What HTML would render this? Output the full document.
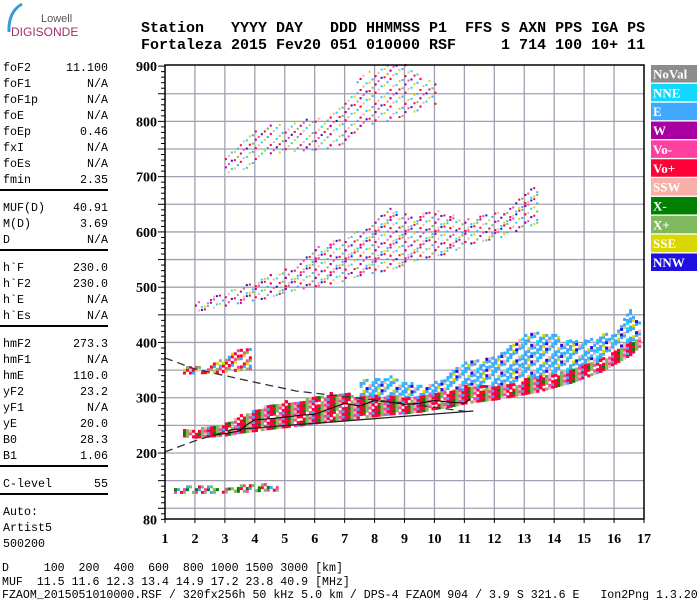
<!DOCTYPE html>
<html><head><meta charset="utf-8"><style>
html,body{margin:0;padding:0;background:#fff;width:700px;height:600px;overflow:hidden;position:relative}
.m{position:absolute;font-family:"Liberation Mono",monospace;white-space:pre;color:#000}
.hd{font-size:15px;font-weight:bold;line-height:17px}
.lp{font-size:11.67px;line-height:16px}
.sep{position:absolute;left:0;width:108px;height:0;border-top:2px solid #000}
svg{position:absolute;left:0;top:0}
</style></head><body>
<svg width="90" height="40" style="left:0;top:0">
<path d="M22 4 Q8 12 9 32" stroke="#3a9ad8" stroke-width="3" fill="none"/>
<text x="41" y="22" font-family="Liberation Sans,sans-serif" font-size="11" fill="#555">Lowell</text>
<text x="11" y="36" font-family="Liberation Sans,sans-serif" font-size="12" fill="#a0306a">DIGISONDE</text>
</svg>
<div class="m hd" style="left:141px;top:20px">Station   YYYY DAY   DDD HHMMSS P1  FFS S AXN PPS IGA PS</div>
<div class="m hd" style="left:141px;top:37px">Fortaleza 2015 Fev20 051 010000 RSF     1 714 100 10+ 11</div>
<div id="lp"></div>
<div class="m lp" style="left:2px;top:561px;font-size:11.6px">D     100  200  400  600  800 1000 1500 3000 [km]</div>
<div class="m lp" style="left:2px;top:575px;font-size:11.6px">MUF  11.5 11.6 12.3 13.4 14.9 17.2 23.8 40.9 [MHz]</div>
<div class="m lp" style="left:2px;top:590px;font-size:11.6px;line-height:12px">FZAOM_2015051010000.RSF / 320fx256h 50 kHz 5.0 km / DPS-4 FZAOM 904 / 3.9 S 321.6 E   Ion2Png 1.3.20</div>
<svg id="ch" width="700" height="600"></svg>
<script>
// ---- data ----
const xTicks=[1,2,3,4,5,6,7,8,9,10,11,12,13,14,15,16,17];
const yTickLabels=[80,200,300,400,500,600,700,800,900];
const legendNames=["NoVal","NNE","E","W","Vo-","Vo+","SSW","X-","X+","SSE","NNW"];
const legendColors=["#8c8c8c","#10d8ff","#40a8ff","#a800a0","#ff40a0","#ff0038","#f8b0a8","#008000","#80b860","#d8d800","#2010e0"];
// main O/X trace
const oFreq=[1.6,2.0,2.5,3.0,3.5,4.0,4.5,5.0,5.5,6.0,6.5,7.0,7.5,8.0,8.5,9.0,9.5,10.0,10.5,11.0,11.5,12.0,12.5,13.0,13.5,14.0,14.5,15.0,15.5,16.0,16.5,16.9];
const oLow=[228,226,228,230,235,238,242,245,248,252,255,258,262,265,268,270,273,278,282,288,292,295,300,305,310,318,325,335,345,360,375,395];
const oHigh=[240,240,245,250,265,275,285,290,292,300,305,305,300,300,300,298,300,305,310,318,318,318,322,330,335,340,348,355,368,380,395,410];
// blue (E/NNW) spread above
const bFreq=[7.5,8.0,8.5,9.0,9.5,10.0,10.5,11.0,11.5,12.0,12.5,13.0,13.5,14.0,14.5,15.0,15.5,16.0,16.5,16.9];
const bLow=[298,300,300,298,298,300,305,305,310,315,320,330,335,335,340,350,370,375,390,400];
const bHigh=[330,330,335,325,320,325,345,360,365,370,390,410,415,410,400,400,415,410,460,430];
// Es trace
const esFreq=[1.6,2.0,2.5,3.0,3.5,3.9];
const esLow=[342,342,343,345,348,350];
const esHigh=[352,352,356,372,385,385];
// E layer
const eFreq=[1.3,1.8,2.3,2.8,3.3,3.8,4.3,4.7];
const eLow=[126,126,126,126,128,128,130,130];
const eHigh=[134,137,137,135,137,140,140,138];
// second hop
const f2Freq=[2.0,2.5,3.0,3.5,4.0,4.5,5.0,6.0,6.5,7.0,7.5,8.0,8.5,9.0,9.5,10.0,10.5,11.0,12.3,12.7,13.0,13.4];
const f2Low=[455,460,465,470,475,480,490,500,505,510,520,525,530,540,550,555,560,575,590,600,605,615];
const f2High=[470,480,490,500,510,520,530,570,580,590,600,620,640,630,630,640,630,620,640,660,670,680];
// third hop
const f3Freq=[3.0,3.5,4.0,4.4,6.5,7.0,7.5,8.0,8.5,9.0,9.5,10.0];
const f3Low=[705,710,720,740,750,760,790,795,800,810,820,830];
const f3High=[730,760,780,790,810,830,880,895,900,900,880,870];
// profile line and leading edges
const profF=[2.6,3.0,3.5,3.7,4.0,4.5,5.0,5.5,6.0,6.5,7.0,7.5,8.0,8.5,9.0,9.5,10.0,10.5,11.0,11.2];
const profH=[232,235,240,250,260,262,265,268,270,280,290,285,295,292,288,290,295,292,290,298];
const dashUpF=[1.0,2.0,3.0,4.0,5.4,7.0,9.0,11.2];
const dashUpH=[372,352,340,328,312,302,290,274];
const dashLoF=[1.0,2.0,3.2];
const dashLoH=[202,222,242];
const solidF=[3.2,11.3];
const solidH=[242,276];
const leftLabels=[["foF2","11.100"],["foF1","N/A"],["foF1p","N/A"],["foE","N/A"],["foEp","0.46"],["fxI","N/A"],["foEs","N/A"],["fmin","2.35"],null,["MUF(D)","40.91"],["M(D)","3.69"],["D","N/A"],null,["h`F","230.0"],["h`F2","230.0"],["h`E","N/A"],["h`Es","N/A"],null,["hmF2","273.3"],["hmF1","N/A"],["hmE","110.0"],["yF2","23.2"],["yF1","N/A"],["yE","20.0"],["B0","28.3"],["B1","1.06"],null,["C-level","55"],null,["Auto:",""],["Artist5",""],["500200",""]];

// ---- axes ----
const X=f=>165+(f-1)*(479/16);
const Y=h=>453-(h-200)*0.5527;
const svg=document.getElementById('ch');
const NS='http://www.w3.org/2000/svg';
function mk(t,a,p){const e=document.createElementNS(NS,t);for(const k in a)e.setAttribute(k,a[k]);(p||svg).appendChild(e);return e;}

// left panel
const lp=document.getElementById('lp');
let yy=60;
leftLabels.forEach(r=>{
  if(r===null){const s=document.createElement('div');s.className='sep';s.style.top=(yy+1)+'px';
    
    
    lp.appendChild(s);yy+=12;return;}
  const a=document.createElement('div');a.className='m lp';a.style.left='3px';a.style.top=yy+'px';a.textContent=r[0];
  
  
  lp.appendChild(a);
  if(r[1]){const b=document.createElement('div');b.className='m lp';b.style.right=(700-108)+'px';b.style.top=yy+'px';b.textContent=r[1];
    
    
    lp.appendChild(b);}
  yy+=16;
});

// grid
const grid=mk('g',{});


for(let h=100;h<900;h+=50){mk('line',{x1:165,x2:644,y1:Y(h),y2:Y(h),stroke:'#a0a0b0','stroke-width':1.3},grid);}
for(let f=2;f<=16;f++){mk('line',{x1:X(f),x2:X(f),y1:65,y2:519,stroke:'#a0a0b0','stroke-width':1.3},grid);}

// echo cells
const C=legendColors;
function band(fr,lo,hi,pal,dens,cw,ch,name){
  const g=mk('g',{});
  
  
  for(let k=0;k<fr.length-1;k++){
    const f0=fr[k],f1=fr[k+1];
    for(let f=f0;f<f1;f+=0.1){
      const t=(f-f0)/(f1-f0);
      const l=lo[k]+(lo[k+1]-lo[k])*t,h=hi[k]+(hi[k+1]-hi[k])*t;
      const i=Math.round(f*10);
      for(let v=l;v<=h;v+=5){
        const j=Math.round(v/5);
        if(((i*13+j*7)%10)>=dens*10)continue;
        const c=pal[(i*3+j*5)%pal.length];
        mk('rect',{x:X(f),y:Y(v)-ch,width:cw,height:ch,fill:c},g);
      }
    }
  }
}
const palO=[C[5],C[8],C[5],C[7],C[4],C[5],C[8],C[2],C[5],C[6]];
const palB=[C[2],C[2],C[1],C[2],C[6],C[2],C[10],C[2],C[9],C[2]];
const palEs=[C[5],C[2],C[4],C[9],C[5],C[8]];
const palE=[C[8],C[7],C[5],C[4],C[2],C[8],C[7]];
const palH=[C[5],C[10],C[2],C[4],C[9],C[3],C[1],C[8],C[6],C[5]];
band(bFreq,bLow,bHigh,palB,0.6,3,3,'echo-blue-spread');
band(oFreq,oLow,oHigh,palO,0.85,3.2,3,'echo-f-trace');
band(esFreq,esLow,esHigh,palEs,0.6,3,3,'echo-es-trace');
band(eFreq,eLow,eHigh,palE,0.6,3,3,'echo-e-layer');
band(f2Freq,f2Low,f2High,palH,0.35,2,2,'echo-second-hop');
band(f3Freq,f3Low,f3High,palH,0.3,2,2,'echo-third-hop');

// curves
const pts=(F,H)=>F.map((f,i)=>X(f)+','+Y(H[i])).join(' ');
const p1=mk('polyline',{points:pts(profF,profH),fill:'none',stroke:'#000','stroke-width':1});


const d1=mk('polyline',{points:pts(dashUpF,dashUpH),fill:'none',stroke:'#333','stroke-width':1.3,'stroke-dasharray':'8,5'});


const d2=mk('polyline',{points:pts(dashLoF,dashLoH),fill:'none',stroke:'#333','stroke-width':1.3,'stroke-dasharray':'8,5'});


const s1=mk('polyline',{points:pts(solidF,solidH),fill:'none',stroke:'#222','stroke-width':1.3});



// frame
const fr=mk('rect',{x:165,y:65,width:479,height:454,fill:'none',stroke:'#000','stroke-width':1.5});


for(let h=80;h<=900;h+=10){const mj=h%50===0;mk('line',{x1:mj?158:161,x2:165,y1:Y(h),y2:Y(h),stroke:'#000','stroke-width':1});}
yTickLabels.forEach(v=>{const t=mk('text',{x:157,y:Y(v)+5,'text-anchor':'end','font-family':'Liberation Serif,serif','font-weight':'bold','font-size':14});t.textContent=v;
  
  });
xTicks.forEach(v=>{mk('line',{x1:X(v),x2:X(v),y1:519,y2:523,stroke:'#000'});
  const t=mk('text',{x:X(v),y:543,'text-anchor':'middle','font-family':'Liberation Serif,serif','font-weight':'bold','font-size':14});t.textContent=v;
  
  });

// legend
legendNames.forEach((n,i)=>{const y=65+i*18.85;
  const r=mk('rect',{x:651,y:y,width:46,height:17.5,fill:legendColors[i]});
  
  
  const t=mk('text',{x:653,y:y+13.5,fill:'#fff','font-family':'Liberation Serif,serif','font-weight':'bold','font-size':13});t.textContent=n;
  
  });
</script>
</body></html>
